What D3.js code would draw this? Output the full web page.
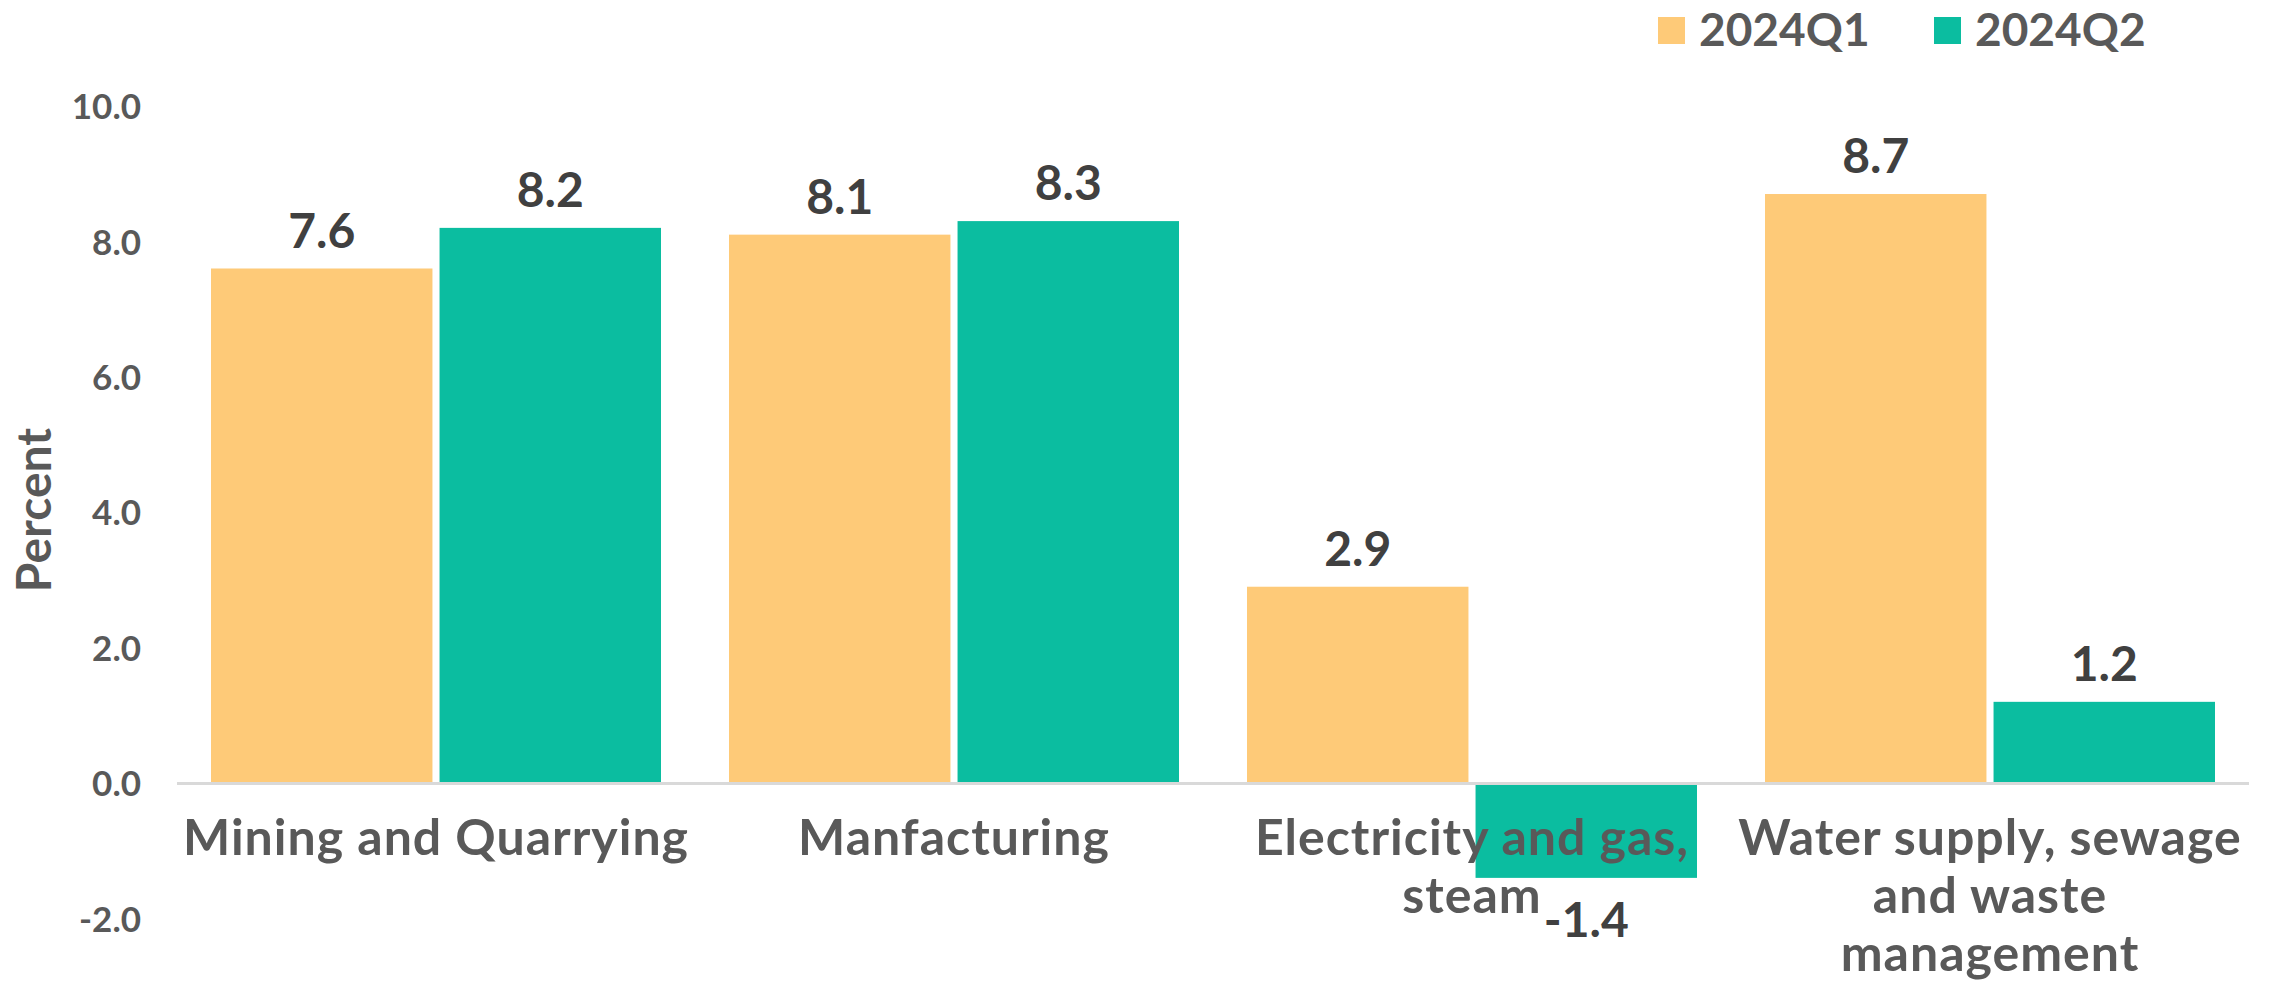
<!DOCTYPE html>
<html>
<head>
<meta charset="utf-8">
<script src="https://cdn.jsdelivr.net/npm/d3@7"></script>
<style>
  html, body { margin: 0; padding: 0; background: #fff; }
  svg { display: block; font-family: Lato, "Open Sans", sans-serif; font-weight: bold; }
</style>
</head>
<body>
<div id="chart"></div>
<script>
// data
const categories = ["Mining and Quarrying", "Manfacturing", "Electricity and gas, steam", "Water supply, sewage and waste management"];
const categoryLines = [
  ["Mining and Quarrying"],
  ["Manfacturing"],
  ["Electricity and gas,", "steam"],
  ["Water supply, sewage", "and waste", "management"]
];
const series = ["2024Q1", "2024Q2"];
const q1 = [7.6, 8.1, 2.9, 8.7];
const q2 = [8.2, 8.3, -1.4, 1.2];
const yTicks = [-2, 0, 2, 4, 6, 8, 10];
const colors = ["#FECA78", "#0BBDA0"];

const W = 2275, H = 982;
// plain hyphen for negatives, like the reference
const fmt = v => d3.format(".1f")(v).replace("\u2212", "-");

const svg = d3.select("#chart").append("svg")
  .attr("width", W).attr("height", H);

svg.append("rect").attr("width", W).attr("height", H).attr("fill", "#fff");

const y = d3.scaleLinear().domain([-2, 10]).range([918.5, 106]);
const x0 = d3.scaleBand().domain(categories).range([177, 2249]).padding(0);
const x1 = d3.scaleBand().domain(series)
  .range([34, x0.bandwidth() - 34]).paddingInner(0.031);

// y tick labels (no axis line in the reference)
const yAxis = d3.axisLeft(y).tickValues(yTicks).tickFormat(fmt).tickSize(0).tickPadding(0);
const gy = svg.append("g").attr("transform", "translate(141,0)").call(yAxis);
gy.select(".domain").remove();
gy.selectAll("text")
  .attr("fill", "#595959")
  .style("font-size", "35px")
  .style("font-family", "Lato, sans-serif")
  .style("font-weight", "bold")
  .attr("dy", "0.36em");

// axis title
svg.append("text")
  .attr("transform", "translate(51,510) rotate(-90)")
  .attr("text-anchor", "middle")
  .attr("fill", "#595959")
  .style("font-size", "48px")
  .text("Percent");

const rows = categories.map((c, i) => ({ cat: c, i: i, vals: [q1[i], q2[i]] }));

const groups = svg.append("g").selectAll("g")
  .data(rows).enter().append("g")
  .attr("transform", d => "translate(" + x0(d.cat) + ",0)");

groups.selectAll("rect")
  .data(d => d.vals.map((v, k) => ({ s: series[k], v: v, k: k })))
  .enter().append("rect")
  .attr("x", d => x1(d.s))
  .attr("width", x1.bandwidth())
  .attr("y", d => y(Math.max(0, d.v)))
  .attr("height", d => Math.abs(y(d.v) - y(0)))
  .attr("fill", d => colors[d.k]);

// zero line
svg.append("line")
  .attr("x1", 177).attr("x2", 2249)
  .attr("y1", y(0) + 0.5).attr("y2", y(0) + 0.5)
  .attr("stroke", "#d9d9d9").attr("stroke-width", 3);

// value labels
groups.selectAll("text.val")
  .data(d => d.vals.map((v, k) => ({ s: series[k], v: v, k: k })))
  .enter().append("text")
  .attr("class", "val")
  .attr("x", d => x1(d.s) + x1.bandwidth() / 2)
  .attr("y", d => d.v >= 0 ? y(d.v) - 21 : y(d.v) + 59)
  .attr("text-anchor", "middle")
  .attr("fill", "#404040")
  .style("font-size", "48px")
  .text(d => fmt(d.v));

// category labels
const catText = svg.append("g").selectAll("text")
  .data(rows).enter().append("text")
  .attr("x", d => x0(d.cat) + x0.bandwidth() / 2)
  .attr("y", 855)
  .attr("text-anchor", "middle")
  .attr("fill", "#595959")
  .style("font-size", "50px")
  .style("letter-spacing", "1px");
catText.selectAll("tspan")
  .data(d => categoryLines[d.i].map(t => ({ t: t, x: x0(d.cat) + x0.bandwidth() / 2 })))
  .enter().append("tspan")
  .attr("x", d => d.x)
  .attr("dy", (d, j) => j === 0 ? 0 : 58)
  .text(d => d.t);

// legend
const legend = svg.append("g").selectAll("g")
  .data(series).enter().append("g")
  .attr("transform", (d, i) => "translate(" + (1658 + i * 276) + ",17)");
legend.append("rect")
  .attr("width", 27).attr("height", 27)
  .attr("fill", (d, i) => colors[i]);
legend.append("text")
  .attr("x", 41).attr("y", 29)
  .attr("fill", "#595959")
  .style("font-size", "46px")
  .text(d => d);
</script>
</body>
</html>
